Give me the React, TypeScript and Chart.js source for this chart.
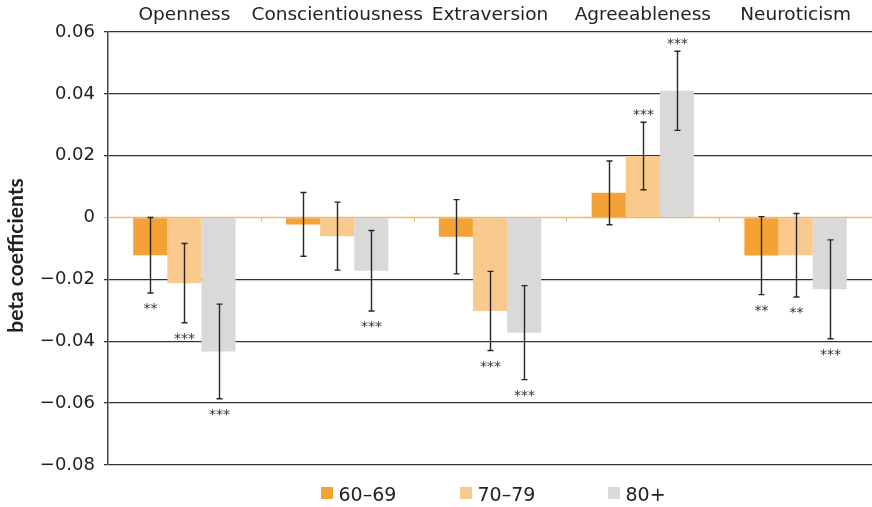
import React, { useEffect, useRef } from 'react';
import { Chart, registerables } from 'chart.js';

Chart.register(...registerables);

const categories = ['Openness', 'Conscientiousness', 'Extraversion', 'Agreeableness', 'Neuroticism'];
const seriesLabels = ['60–69', '70–79', '80+'];
const seriesColors = ['#F4A236', '#F9C98D', '#D9D9D9'];

const values6069 = [-0.0122, -0.0022, -0.0062, 0.008, -0.0123];
const values7079 = [-0.0212, -0.006, -0.0302, 0.0199, -0.0122];
const values80 = [-0.0433, -0.0172, -0.0372, 0.041, -0.0232];

const errors6069 = [0.0122, 0.0103, 0.012, 0.0103, 0.0126];
const errors7079 = [0.0128, 0.011, 0.0128, 0.0109, 0.0135];
const errors80 = [0.0153, 0.013, 0.0152, 0.0128, 0.016];

const stars6069 = ['**', '', '', '', '**'];
const stars7079 = ['***', '', '***', '***', '**'];
const stars80 = ['***', '***', '***', '***', '***'];

const yMin = -0.08;
const yMax = 0.06;
const yStep = 0.02;
const yTitle = 'beta coefficients';

const FONT = '"DejaVu Sans", sans-serif';
const TEXT = '#222222';

const allErrors = [errors6069, errors7079, errors80];
const allStars = [stars6069, stars7079, stars80];

const zeroLinePlugin = {
  id: 'zeroLine',
  beforeDatasetsDraw(chart: any) {
    const { ctx, chartArea, scales } = chart;
    const y0 = scales.y.getPixelForValue(0);
    const xs = scales.x;
    ctx.save();
    ctx.strokeStyle = '#F6B46C';
    ctx.lineWidth = 1.5;
    ctx.beginPath();
    ctx.moveTo(chartArea.left, y0);
    ctx.lineTo(chartArea.right, y0);
    ctx.stroke();
    const n = categories.length;
    const w = (chartArea.right - chartArea.left) / n;
    ctx.lineWidth = 1;
    for (let i = 1; i < n; i++) {
      const x = Math.round(xs.left + w * i) + 0.5;
      ctx.beginPath();
      ctx.moveTo(x, y0);
      ctx.lineTo(x, y0 + 4);
      ctx.stroke();
    }
    ctx.restore();
  },
};

const errorBarPlugin = {
  id: 'errorBars',
  afterDatasetsDraw(chart: any) {
    const { ctx, scales } = chart;
    const ys = scales.y;
    ctx.save();
    chart.data.datasets.forEach((ds: any, i: number) => {
      const meta = chart.getDatasetMeta(i);
      meta.data.forEach((bar: any, j: number) => {
        const v = ds.data[j] as number;
        const e = allErrors[i][j];
        const x = Math.round(bar.x) + 0.5;
        const yHi = ys.getPixelForValue(v + e);
        const yLo = ys.getPixelForValue(v - e);
        ctx.strokeStyle = '#262626';
        ctx.lineWidth = 1.4;
        ctx.beginPath();
        ctx.moveTo(x, yHi);
        ctx.lineTo(x, yLo);
        ctx.moveTo(x - 3, yHi);
        ctx.lineTo(x + 3, yHi);
        ctx.moveTo(x - 3, yLo);
        ctx.lineTo(x + 3, yLo);
        ctx.stroke();
        const s = allStars[i][j];
        if (s) {
          ctx.fillStyle = '#333333';
          ctx.font = `14px ${FONT}`;
          ctx.textAlign = 'center';
          ctx.textBaseline = 'alphabetic';
          const yy = v >= 0 ? yHi - 3 : yLo + 20;
          ctx.fillText(s, x, yy);
        }
      });
    });
    ctx.restore();
  },
};

const extrasPlugin = {
  id: 'extras',
  afterDraw(chart: any) {
    const { ctx, chartArea } = chart;
    ctx.save();
    ctx.translate(16, (chartArea.top + chartArea.bottom) / 2 + 7);
    ctx.rotate(-Math.PI / 2);
    ctx.font = `bold 21px Lato, ${FONT}`;
    ctx.fillStyle = TEXT;
    ctx.textAlign = 'center';
    ctx.textBaseline = 'middle';
    ctx.fillText(yTitle, 0, 0);
    ctx.restore();

    const starts = [321, 460, 608];
    ctx.save();
    ctx.font = `19px ${FONT}`;
    ctx.textAlign = 'left';
    ctx.textBaseline = 'alphabetic';
    chart.data.datasets.forEach((ds: any, i: number) => {
      const x = starts[i];
      const top = chartArea.bottom + 22;
      ctx.fillStyle = ds.backgroundColor;
      ctx.fillRect(x, top, 12, 12);
      ctx.fillStyle = TEXT;
      ctx.fillText(ds.label, x + 17.5, top + 14);
    });
    ctx.restore();
  },
};

function fmt(v: number): string {
  if (Math.abs(v) < 1e-9) return '0';
  const s = Math.abs(v).toFixed(2);
  return v < 0 ? '\u2212' + s : s;
}

export default function App() {
  const ref = useRef<HTMLCanvasElement | null>(null);

  useEffect(() => {
    document.body.style.margin = '0';
    if (!ref.current) return;
    const chart = new Chart(ref.current, {
      type: 'bar',
      data: {
        labels: categories,
        datasets: [values6069, values7079, values80].map((vals, i) => ({
          label: seriesLabels[i],
          data: vals,
          backgroundColor: seriesColors[i],
          borderWidth: 0,
          categoryPercentage: 0.67,
          barPercentage: 1.0,
        })),
      },
      options: {
        responsive: false,
        animation: false,
        layout: { padding: { left: 0, right: 0, top: 0, bottom: 42 } },
        plugins: {
          legend: { display: false },
          tooltip: { enabled: false },
        },
        scales: {
          x: {
            position: 'top',
            grid: { display: false, drawTicks: false },
            border: { display: false },
            ticks: {
              font: { family: FONT, size: 18.5 },
              color: TEXT,
              padding: 6,
              maxRotation: 0,
              autoSkip: false,
            },
            afterFit: (s: any) => {
              s.height = 32;
            },
          },
          y: {
            min: yMin,
            max: yMax,
            ticks: {
              stepSize: yStep,
              callback: (v: any) => fmt(Number(v)),
              font: { family: FONT, size: 18 },
              color: TEXT,
              padding: 9,
            },
            grid: {
              color: (c: any) => (Math.abs(c.tick?.value ?? 1) < 1e-9 ? 'rgba(0,0,0,0)' : '#333333'),
              tickColor: (c: any) => (Math.abs(c.tick?.value ?? 1) < 1e-9 ? '#F6B46C' : '#333333'),
              lineWidth: 1.3,
              tickLength: 4,
            },
            border: { color: '#444444', width: 1.5 },
            afterFit: (s: any) => {
              s.width = 108;
            },
          },
        },
      } as any,
      plugins: [zeroLinePlugin, errorBarPlugin, extrasPlugin],
    });
    return () => chart.destroy();
  }, []);

  return (
    <div style={{ width: 872, height: 507 }}>
      <canvas ref={ref} width={872} height={507} />
    </div>
  );
}
